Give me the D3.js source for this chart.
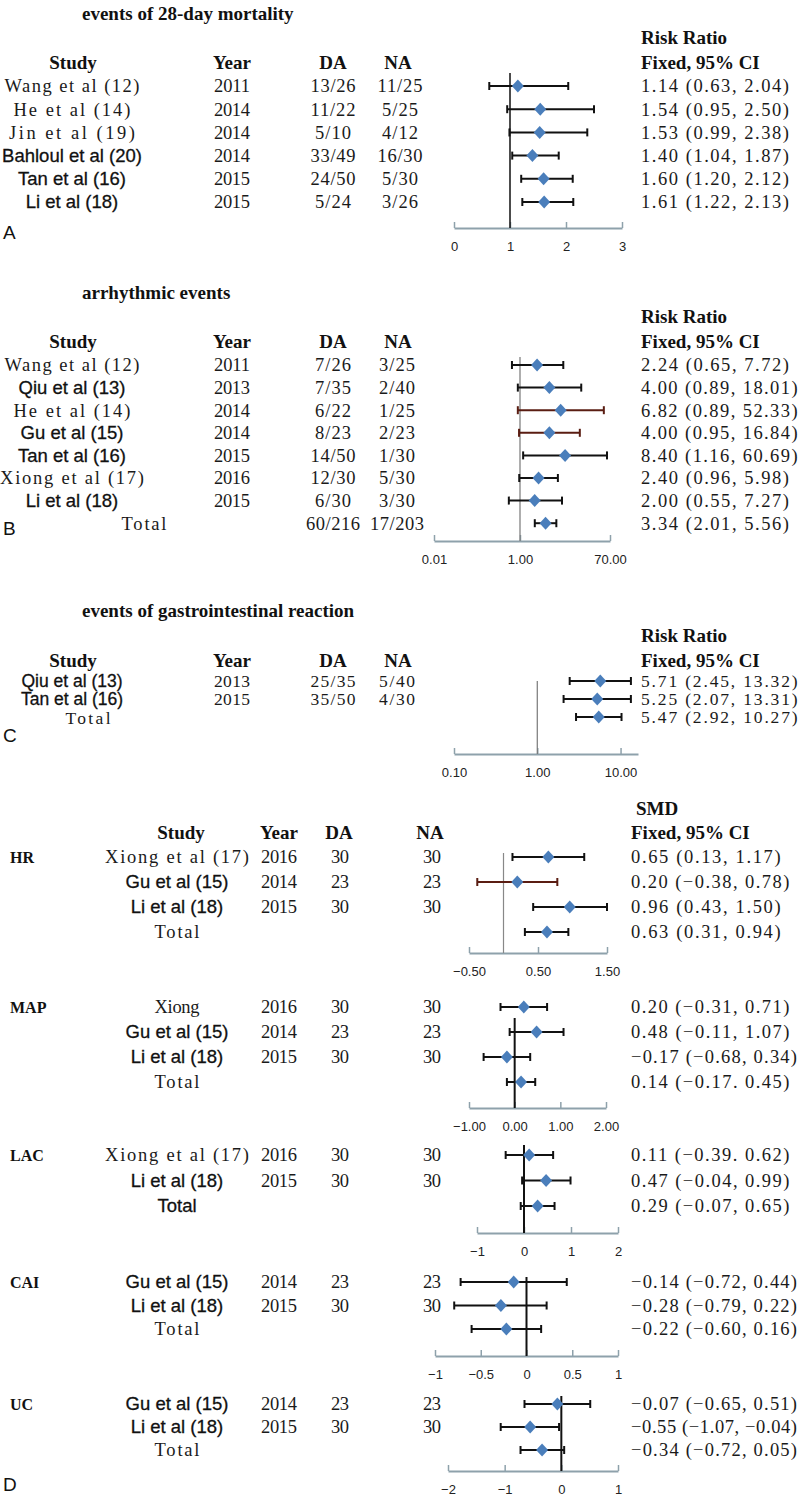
<!DOCTYPE html>
<html><head><meta charset="utf-8">
<script src="https://cdn.jsdelivr.net/npm/d3@7"></script>
<style>body{margin:0;background:#fff}</style>
</head><body><svg id="c" width="800" height="1498"></svg>
<script>
// ---------- DATA ----------
// Panel A: 28-day mortality
const studiesA = ["Wang et al (12)","He et al (14)","Jin et al (19)","Bahloul et al (20)","Tan et al (16)","Li et al (18)"];
const yearsA = ["2011","2014","2014","2014","2015","2015"];
const daA = ["13/26","11/22","5/10","33/49","24/50","5/24"];
const naA = ["11/25","5/25","4/12","16/30","5/30","3/26"];
const rrA = [1.14,1.54,1.53,1.40,1.60,1.61];
const loA = [0.63,0.95,0.99,1.04,1.20,1.22];
const hiA = [2.04,2.50,2.38,1.87,2.12,2.13];
const ciA = ["1.14 (0.63, 2.04)","1.54 (0.95, 2.50)","1.53 (0.99, 2.38)","1.40 (1.04, 1.87)","1.60 (1.20, 2.12)","1.61 (1.22, 2.13)"];
const ticksA = [0,1,2,3];

// Panel B: arrhythmic events
const studiesB = ["Wang et al (12)","Qiu et al (13)","He et al (14)","Gu et al (15)","Tan et al (16)","Xiong et al (17)","Li et al (18)","Total"];
const yearsB = ["2011","2013","2014","2014","2015","2016","2015",""];
const daB = ["7/26","7/35","6/22","8/23","14/50","12/30","6/30","60/216"];
const naB = ["3/25","2/40","1/25","2/23","1/30","5/30","3/30","17/203"];
const rrB = [2.24,4.00,6.82,4.00,8.40,2.40,2.00,3.34];
const loB = [0.65,0.89,0.89,0.95,1.16,0.96,0.55,2.01];
const hiB = [7.72,18.01,52.33,16.84,60.69,5.98,7.27,5.56];
const ciB = ["2.24 (0.65, 7.72)","4.00 (0.89, 18.01)","6.82 (0.89, 52.33)","4.00 (0.95, 16.84)","8.40 (1.16, 60.69)","2.40 (0.96, 5.98)","2.00 (0.55, 7.27)","3.34 (2.01, 5.56)"];
const ticksB = [0.01,1,70];

// Panel C: gastrointestinal reaction
const studiesC = ["Qiu et al (13)","Tan et al (16)","Total"];
const yearsC = ["2013","2015",""];
const daC = ["25/35","35/50",""];
const naC = ["5/40","4/30",""];
const rrC = [5.71,5.25,5.47];
const loC = [2.45,2.07,2.92];
const hiC = [13.32,13.31,10.27];
const ciC = ["5.71 (2.45, 13.32)","5.25 (2.07, 13.31)","5.47 (2.92, 10.27)"];
const ticksC = [0.1,1,10];

// Panel D: SMD groups
const studiesHR = ["Xiong et al (17)","Gu et al (15)","Li et al (18)","Total"];
const yearsHR = ["2016","2014","2015",""];
const daHR = ["30","23","30",""];
const naHR = ["30","23","30",""];
const smdHR = [0.65,0.20,0.96,0.63];
const loHR = [0.13,-0.38,0.43,0.31];
const hiHR = [1.17,0.78,1.50,0.94];
const ciHR = ["0.65 (0.13, 1.17)","0.20 (−0.38, 0.78)","0.96 (0.43, 1.50)","0.63 (0.31, 0.94)"];
const ticksHR = [-0.5,0.5,1.5];

const studiesMAP = ["Xiong","Gu et al (15)","Li et al (18)","Total"];
const yearsMAP = ["2016","2014","2015",""];
const daMAP = ["30","23","30",""];
const naMAP = ["30","23","30",""];
const smdMAP = [0.20,0.48,-0.17,0.14];
const loMAP = [-0.31,-0.11,-0.68,-0.17];
const hiMAP = [0.71,1.07,0.34,0.45];
const ciMAP = ["0.20 (−0.31, 0.71)","0.48 (−0.11, 1.07)","−0.17 (−0.68, 0.34)","0.14 (−0.17. 0.45)"];
const ticksMAP = [-1,0,1,2];

const studiesLAC = ["Xiong et al (17)","Li et al (18)","Total"];
const yearsLAC = ["2016","2015",""];
const daLAC = ["30","30",""];
const naLAC = ["30","30",""];
const smdLAC = [0.11,0.47,0.29];
const loLAC = [-0.39,-0.04,-0.07];
const hiLAC = [0.62,0.99,0.65];
const ciLAC = ["0.11 (−0.39. 0.62)","0.47 (−0.04, 0.99)","0.29 (−0.07, 0.65)"];
const ticksLAC = [-1,0,1,2];

const studiesCAI = ["Gu et al (15)","Li et al (18)","Total"];
const yearsCAI = ["2014","2015",""];
const daCAI = ["23","30",""];
const naCAI = ["23","30",""];
const smdCAI = [-0.14,-0.28,-0.22];
const loCAI = [-0.72,-0.79,-0.60];
const hiCAI = [0.44,0.22,0.16];
const ciCAI = ["−0.14 (−0.72, 0.44)","−0.28 (−0.79, 0.22)","−0.22 (−0.60, 0.16)"];
const ticksCAI = [-1,-0.5,0,0.5,1];

const studiesUC = ["Gu et al (15)","Li et al (18)","Total"];
const yearsUC = ["2014","2015",""];
const daUC = ["23","30",""];
const naUC = ["23","30",""];
const smdUC = [-0.07,-0.55,-0.34];
const loUC = [-0.65,-1.07,-0.72];
const hiUC = [0.51,-0.04,0.05];
const ciUC = ["−0.07 (−0.65, 0.51)","−0.55 (−1.07, −0.04)","−0.34 (−0.72, 0.05)"];
const ticksUC = [-2,-1,0,1];

// ---------- STYLE ----------
const SERIF = "'Liberation Serif','Times New Roman',serif";
const SANS = "'Liberation Sans',Arial,sans-serif";
const CW = 9;            // monospaced cell width for SimSun-like text
const BLUE = "#4a7ebb";
const DARK = "#5a1d12";
const AXC = "#8ea1ab";
const sansNames = new Set(["Bahloul et al (20)","Tan et al (16)","Li et al (18)","Qiu et al (13)","Gu et al (15)"]);

const svg = d3.select("#c");

function mono(x, y, s, anchor, cw, maxW, size) {
  if (!s) return;
  let tl = s.length * (cw || CW);
  if (maxW) tl = Math.min(tl, maxW);
  svg.append("text").attr("x", x).attr("y", y).attr("dy", "0.35em")
    .attr("font-family", SERIF).attr("font-size", size || 18.5).attr("fill", "#1a1a1a")
    .attr("text-anchor", anchor || "middle")
    .attr("textLength", tl).attr("lengthAdjust", "spacing")
    .text(s);
}
function sans(x, y, s, anchor, size) {
  svg.append("text").attr("x", x).attr("y", y).attr("dy", "0.35em")
    .attr("font-family", SANS).attr("font-size", size || 18.5).attr("fill", "#111")
    .attr("stroke", "#111").attr("stroke-width", 0.3)
    .attr("text-anchor", anchor || "middle").text(s);
}
function bold(x, y, s, anchor, size) {
  svg.append("text").attr("x", x).attr("y", y).attr("dy", "0.35em")
    .attr("font-family", SERIF).attr("font-weight", "bold").attr("font-size", size || 19)
    .attr("fill", "#111").attr("text-anchor", anchor || "start").text(s);
}
function letter(x, y, s) {
  svg.append("text").attr("x", x).attr("y", y).attr("dy", "0.35em")
    .attr("font-family", SANS).attr("font-size", 19).attr("fill", "#111").text(s);
}
function name(x, y, s, size) {
  if (sansNames.has(s)) sans(x, y, s, "middle", size); else mono(x, y, s, "middle", null, null, size);
}

function forest(ys, est, lo, hi, x, darkIdx) {
  darkIdx = darkIdx || [];
  const g = svg.append("g");
  const rows = ys.map((y, i) => ({y, e: est[i], l: lo[i], h: hi[i], c: darkIdx.includes(i) ? DARK : "#111"}));
  g.selectAll("line.ci").data(rows).join("line").attr("class", "ci")
    .attr("x1", d => x(d.l)).attr("x2", d => x(d.h)).attr("y1", d => d.y).attr("y2", d => d.y)
    .attr("stroke", d => d.c).attr("stroke-width", 2);
  g.selectAll("line.capl").data(rows).join("line").attr("class", "capl")
    .attr("x1", d => x(d.l)).attr("x2", d => x(d.l)).attr("y1", d => d.y - 4).attr("y2", d => d.y + 4)
    .attr("stroke", d => d.c).attr("stroke-width", 2);
  g.selectAll("line.caph").data(rows).join("line").attr("class", "caph")
    .attr("x1", d => x(d.h)).attr("x2", d => x(d.h)).attr("y1", d => d.y - 4).attr("y2", d => d.y + 4)
    .attr("stroke", d => d.c).attr("stroke-width", 2);
  g.selectAll("path.dm").data(rows).join("path").attr("class", "dm")
    .attr("d", "M0,-6.5L6,0L0,6.5L-6,0Z")
    .attr("transform", d => `translate(${x(d.e)},${d.y})`).attr("fill", BLUE);
}

function axis(x, y, ticks, fmt) {
  const g = svg.append("g").attr("transform", `translate(0,${y})`)
    .call(d3.axisBottom(x).tickValues(ticks).tickFormat(fmt).tickSize(-6).tickSizeOuter(0).tickPadding(14));
  g.select(".domain").attr("stroke", AXC).attr("stroke-width", 2);
  g.selectAll(".tick line").attr("stroke", AXC).attr("stroke-width", 1.5);
  g.selectAll(".tick text").attr("font-family", SANS).attr("font-size", 13).attr("fill", "#222");
}
function refLine(x, y1, y2, color, w) {
  svg.append("line").attr("x1", x).attr("x2", x).attr("y1", y1).attr("y2", y2)
    .attr("stroke", color).attr("stroke-width", w);
}
function headers(hy, cols) {
  bold(cols[0], hy, "Study", "middle"); bold(cols[1], hy, "Year", "middle");
  bold(cols[2], hy, "DA", "middle"); bold(cols[3], hy, "NA", "middle");
  bold(cols[4], hy, "Fixed, 95% CI");
}
const colsABC = [73, 232, 333, 398, 641];
const CW_CI = 8.7;

// ---------- PANEL A ----------
{
  bold(82, 13, "events of 28-day mortality", "start", 19);
  bold(641, 37, "Risk Ratio");
  headers(62, colsABC);
  const ys = studiesA.map((_, i) => 86 + i * 23.2);
  ys.forEach((y, i) => {
    name(72, y, studiesA[i]); mono(232, y, yearsA[i]);
    mono(333, y, daA[i]); mono(400, y, naA[i]); mono(641, y, ciA[i], "start", CW_CI);
  });
  const x = d3.scaleLinear().domain([0, 3]).range([454, 622]);
  axis(x, 228, ticksA, d3.format("d"));
  refLine(x(1), 73, 228, "#111", 1.5);
  forest(ys, rrA, loA, hiA, x);
  letter(3, 232, "A");
}

// ---------- PANEL B ----------
{
  bold(82, 292, "arrhythmic events", "start", 19);
  bold(641, 316, "Risk Ratio");
  headers(341, colsABC);
  const ys = studiesB.map((_, i) => 365 + i * 22.6);
  ys.forEach((y, i) => {
    if (studiesB[i] === "Total") mono(144, y, "Total"); else name(72, y, studiesB[i]);
    mono(232, y, yearsB[i]); mono(333, y, daB[i]); mono(397, y, naB[i]);
    mono(641, y, ciB[i], "start", CW_CI, 157);
  });
  const x = d3.scaleLog().domain([0.01, 1, 70]).range([434, 520, 610]);
  axis(x, 541, ticksB, d3.format(".2f"));
  refLine(x(1), 357, 541, "#777", 1.2);
  forest(ys, rrB, loB, hiB, x, [2, 3]);
  letter(3, 528, "B");
}

// ---------- PANEL C ----------
{
  bold(82, 610, "events of gastrointestinal reaction", "start", 19);
  bold(641, 635, "Risk Ratio");
  headers(660, colsABC);
  const ys = [681, 699, 717];
  ys.forEach((y, i) => {
    if (studiesC[i] === "Total") mono(88, y + 1, "Total", "middle", null, null, 17.5);
    else name(72, y, studiesC[i], 17.5);
    mono(232, y, yearsC[i], "middle", null, null, 17.5); mono(333, y, daC[i], "middle", null, null, 17.5);
    mono(397, y, naC[i], "middle", null, null, 17.5);
    mono(641, y, ciC[i], "start", CW_CI, 157, 17.5);
  });
  const x = d3.scaleLog().domain([0.1, 16.2]).range([454, 638]);
  axis(x, 754, ticksC, d3.format(".2f"));
  refLine(x(1), 681, 754, "#777", 1.2);
  forest(ys, rrC, loC, hiC, x);
  letter(3, 735, "C");
}

// ---------- PANEL D ----------
{
  bold(636, 808, "SMD");
  headers(832, [181, 279, 339, 430, 631]);

  function group(label, y0, step, st, yr, da, na, est, lo, hi, ci, scale, ticks, fmt, axisY, refTop, refColor, refW, darkIdx) {
    bold(10, y0, label, "start", 16);
    const ys = st.map((_, i) => y0 + i * step);
    ys.forEach((y, i) => {
      if (label === "LAC" && st[i] === "Total") sans(177, y, "Total"); else name(177, y, st[i]);
      mono(279, y, yr[i]); mono(340, y, da[i]); mono(432, y, na[i]);
      mono(631, y, ci[i], "start", 8.8, 166);
    });
    axis(scale, axisY, ticks, fmt);
    refLine(scale(0), refTop, axisY, refColor, refW);
    forest(ys, est, lo, hi, scale, darkIdx);
  }

  group("HR", 857, 25, studiesHR, yearsHR, daHR, naHR, smdHR, loHR, hiHR, ciHR,
    d3.scaleLinear().domain([-0.5, 1.5]).range([469, 607]), ticksHR, d3.format(".2f"), 953, 853, "#888", 1.2, [1]);
  group("MAP", 1007, 25, studiesMAP, yearsMAP, daMAP, naMAP, smdMAP, loMAP, hiMAP, ciMAP,
    d3.scaleLinear().domain([-1, 2]).range([469, 606]), ticksMAP, d3.format(".2f"), 1108, 1018, "#111", 2);
  group("LAC", 1155, 25.5, studiesLAC, yearsLAC, daLAC, naLAC, smdLAC, loLAC, hiLAC, ciLAC,
    d3.scaleLinear().domain([-1, 2]).range([477, 618]), ticksLAC, d3.format("d"), 1233, 1145, "#111", 2);
  group("CAI", 1282, 23.5, studiesCAI, yearsCAI, daCAI, naCAI, smdCAI, loCAI, hiCAI, ciCAI,
    d3.scaleLinear().domain([-1, 1]).range([435, 618]), ticksCAI, d3.format(""), 1356, 1277, "#111", 2);
  group("UC", 1404, 23, studiesUC, yearsUC, daUC, naUC, smdUC, loUC, hiUC, ciUC,
    d3.scaleLinear().domain([-2, 1]).range([448, 618]), ticksUC, d3.format("d"), 1471, 1396, "#111", 2);

  letter(3, 1484, "D");
}
</script></body></html>
